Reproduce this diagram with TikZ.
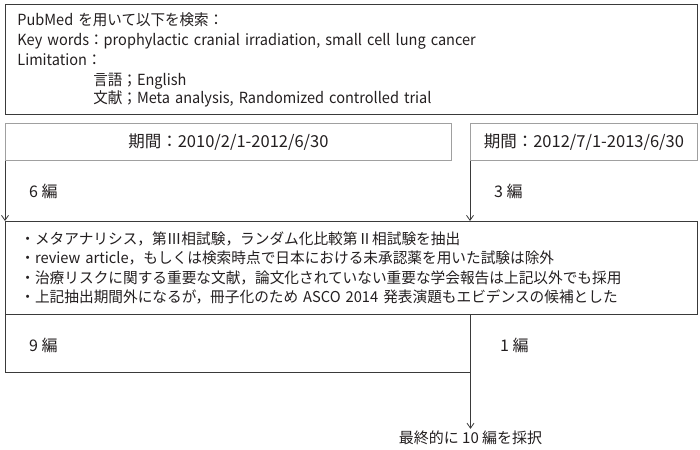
\documentclass[tikz,border=0pt]{standalone}
\usepackage{fontspec}
\setmainfont{Noto Sans CJK JP}
\newfontfamily\topfont{Noto Sans CJK JP}[FakeStretch=0.95]
\newfontfamily\critfont{Noto Sans CJK JP}[FakeStretch=0.978]
\usetikzlibrary{arrows.meta}
\definecolor{ink}{HTML}{231F20}
\definecolor{rulec}{HTML}{3A3A3A}
\definecolor{lightrule}{HTML}{A0A0A0}
\tikzset{
  txt/.style={text=ink, font=\fontsize{15}{20}\selectfont, inner sep=0pt},
  mainbox/.style={draw=rulec, line width=0.8pt, txt},
  perbox/.style={draw=lightrule, line width=0.8pt, txt, font=\fontsize{16.5}{20}\selectfont},
  conn/.style={draw=rulec, line width=0.8pt},
  arr/.style={conn, -{Straight Barb[length=5pt,width=7pt]}},
  count/.style={txt, anchor=west, font=\fontsize{16}{20}\selectfont},
}
\begin{document}
\begin{tikzpicture}[x=1pt,y=-1pt]
\useasboundingbox (0,0) rectangle (700,449);
\node[mainbox, anchor=north west, minimum width=692pt, minimum height=110pt,
      text width=668pt, inner xsep=12pt, align=left,
      font=\topfont\fontsize{15.3}{20}\selectfont] (search) at (5,4)
 {PubMed を用いて以下を検索：\\
  Key words：prophylactic cranial irradiation, small cell lung cancer\\
  Limitation：\\
  \hspace*{76pt}言語；English\\[-2pt]
  \hspace*{76pt}文献；Meta analysis, Randomized controlled trial};
\node[perbox, anchor=north west, minimum width=446pt, minimum height=37pt] (p1) at (5,123)
 {期間：2010/2/1-2012/6/30};
\node[perbox, anchor=north west, minimum width=227pt, minimum height=37pt] (p2) at (470,123)
 {期間：2012/7/1-2013/6/30};
\node[mainbox, anchor=north west, minimum width=692pt, minimum height=93pt,
      text width=662pt, inner xsep=15pt, align=left,
      font=\critfont\fontsize{15}{19.3}\selectfont] (crit) at (5,221)
 {・メタアナリシス，第Ⅲ相試験，ランダム化比較第Ⅱ相試験を抽出\\
  ・review article，もしくは検索時点で日本における未承認薬を用いた試験は除外\\
  ・治療リスクに関する重要な文献，論文化されていない重要な学会報告は上記以外でも採用\\
  ・上記抽出期間外になるが，冊子化のため ASCO 2014 発表演題もエビデンスの候補とした};
\draw[arr] (p1.south west) -- (crit.north west);
\draw[arr] (p2.south west) -- (p2.south west |- crit.north);
\node[count] (n6) at (29,191) {6 編};
\node[count] (n3) at (494,191) {3 編};
\node[count] (n9) at (29,345) {9 編};
\node[count] (n1) at (500,345) {1 編};
\coordinate (join) at (470.5,372);
\node[txt, inner ysep=2pt] (final) at (470.5,438) {最終的に 10 編を採択};
\draw[conn] (crit.south west) |- (join);
\draw[arr] (crit.south -| join) -- (final.north);
\end{tikzpicture}
\end{document}
